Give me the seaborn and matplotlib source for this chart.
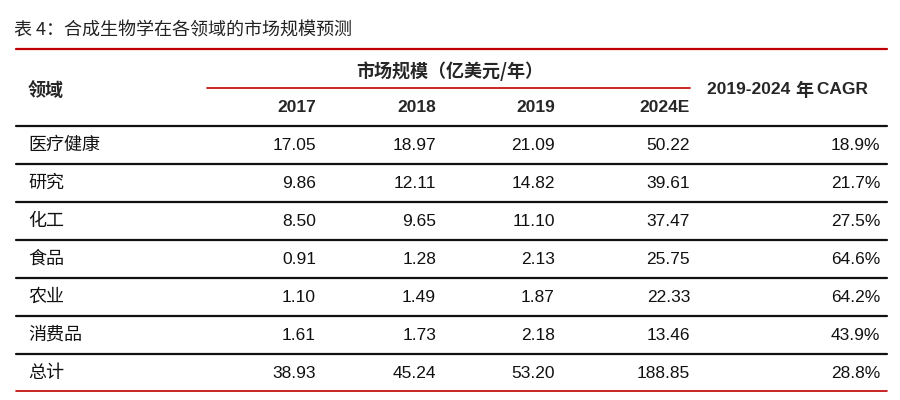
import matplotlib
matplotlib.use("Agg")
import matplotlib.pyplot as plt
import seaborn as sns

# 表格数据
TITLE = "表 4：合成生物学在各领域的市场规模预测"
FIELDS = ["医疗健康", "研究", "化工", "食品", "农业", "消费品", "总计"]
YEARS = ["2017", "2018", "2019", "2024E"]
V2017 = ["17.05", "9.86", "8.50", "0.91", "1.10", "1.61", "38.93"]
V2018 = ["18.97", "12.11", "9.65", "1.28", "1.49", "1.73", "45.24"]
V2019 = ["21.09", "14.82", "11.10", "2.13", "1.87", "2.18", "53.20"]
V2024 = ["50.22", "39.61", "37.47", "25.75", "22.33", "13.46", "188.85"]
CAGR = ["18.9%", "21.7%", "27.5%", "64.6%", "64.2%", "43.9%", "28.8%"]

sns.set_theme(style="white")
CJK = "Noto Sans CJK SC"
NUM = "Liberation Sans"
RED = "#c00000"

fig = plt.figure(figsize=(9, 4), dpi=100)
ax = fig.add_axes([0, 0, 1, 1])
ax.set_xlim(0, 900)
ax.set_ylim(400, 0)
ax.axis("off")

ax.text(14, 30, TITLE, fontfamily=CJK, fontsize=13, va="center", ha="left", color="#222")
ax.plot([16, 887], [49, 49], color=RED, lw=1.6)

ax.text(28, 90, "领域", fontfamily=CJK, fontsize=13, fontweight="bold", va="center")
ax.text(450, 71, "市场规模（亿美元/年）", fontfamily=CJK, fontsize=13, fontweight="bold",
        va="center", ha="center")
ax.plot([207, 690], [88, 88], color=RED, lw=1.2)
ax.text(795, 90, "2019-2024 ", fontfamily=NUM, fontsize=12.5, fontweight="bold",
        va="center", ha="right")
ax.text(795, 90, "年", fontfamily=CJK, fontsize=13, fontweight="bold", va="center", ha="left")
ax.text(812, 90, " CAGR", fontfamily=NUM, fontsize=12.5, fontweight="bold", va="center", ha="left")

col_x = [316, 436, 555, 690]
for x, y in zip(col_x, YEARS):
    ax.text(x, 108, y, fontfamily=NUM, fontsize=12.5, fontweight="bold", va="center", ha="right")

cols = [V2017, V2018, V2019, V2024]
top = 126
h = 38
for i, name in enumerate(FIELDS):
    yc = top + h * i + h / 2
    ax.plot([16, 887], [top + h * i, top + h * i], color="#111", lw=1.6)
    ax.text(28, yc, name, fontfamily=CJK, fontsize=13, va="center", color="#111")
    for x, col in zip(col_x, cols):
        ax.text(x, yc, col[i], fontfamily=NUM, fontsize=12.5, va="center", ha="right", color="#111")
    ax.text(880, yc, CAGR[i], fontfamily=NUM, fontsize=12.5, va="center", ha="right", color="#111")
ax.plot([16, 887], [top + h * len(FIELDS) - 1, top + h * len(FIELDS) - 1], color=RED, lw=1.2)

fig.savefig("out.png", dpi=100, facecolor="white")
